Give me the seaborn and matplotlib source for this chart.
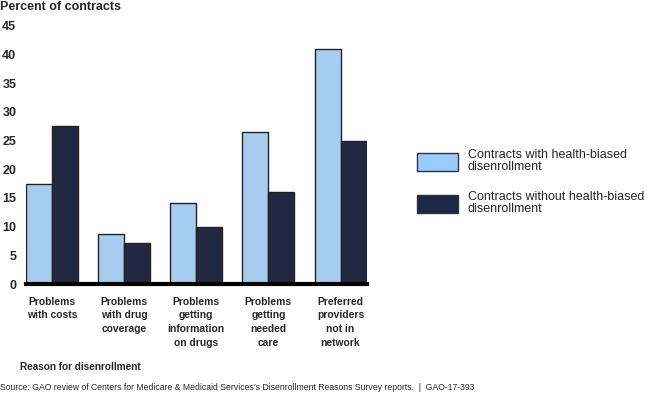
import pandas as pd
import numpy as np
import matplotlib
matplotlib.use("Agg")
import matplotlib.pyplot as plt
import seaborn as sns
from matplotlib.patches import Patch

# data
reasons = ["Problems\nwith costs", "Problems\nwith drug\ncoverage",
           "Problems\ngetting\ninformation\non drugs", "Problems\ngetting\nneeded\ncare",
           "Preferred\nproviders\nnot in\nnetwork"]
with_bias = [17.4, 8.8, 14.2, 26.5, 40.9]
without_bias = [27.5, 7.1, 10.0, 16.1, 25.0]
groups = ["Contracts with health-biased\ndisenrollment",
          "Contracts without health-biased\ndisenrollment"]
yticks = [0, 5, 10, 15, 20, 25, 30, 35, 40, 45]

LIGHT = "#99CCFF"
DARK = "#1A2747"

df = pd.DataFrame({
    "reason": reasons * 2,
    "pct": with_bias + without_bias,
    "group": [groups[0]] * 5 + [groups[1]] * 5,
})

sns.set_style("white")
plt.rcParams["font.family"] = ["Liberation Sans", "DejaVu Sans"]

fig = plt.figure(figsize=(6.5, 3.97), dpi=100)
ax = fig.add_axes([0.04, 0.2846, 0.525, 0.65])

sns.barplot(data=df, x="reason", y="pct", hue="group", palette=[LIGHT, DARK],
            width=0.72, gap=0, edgecolor="#222222", linewidth=1.0, ax=ax,
            legend=False)

ax.set_xlim(-0.36, 4.37)
ax.set_ylim(0, 45)
ax.set_yticks(yticks)
ax.set_yticklabels([str(t) for t in yticks], fontweight="bold", fontsize=9)
ax.tick_params(axis="y", length=0, pad=7)
ax.tick_params(axis="x", length=0, pad=9)
for lab in ax.get_xticklabels():
    lab.set_fontweight("bold")
    lab.set_fontsize(7.4)
    lab.set_linespacing(1.47)
    lab.set_ha("center")
ax.set_xlabel("")
ax.set_ylabel("")
for s in ["top", "right", "left"]:
    ax.spines[s].set_visible(False)
ax.spines["bottom"].set_linewidth(3)
ax.spines["bottom"].set_color("black")

handles = [Patch(facecolor=LIGHT, edgecolor="#333333", lw=1.0),
           Patch(facecolor=DARK, edgecolor="#333333", lw=1.0)]
leg = fig.legend(handles, groups, loc="upper left", bbox_to_anchor=(0.641, 0.624),
                 frameon=False, fontsize=9, handlelength=3.3, handleheight=1.9,
                 handletextpad=0.8, labelspacing=1.45, borderaxespad=0, borderpad=0)
for t in leg.get_texts():
    t.set_linespacing(1.0)

fig.text(0.0, 0.983, "Percent of contracts", fontweight="bold", fontsize=9,
         va="center", ha="left")
fig.text(0.031, 0.075, "Reason for disenrollment", fontweight="bold", fontsize=7.2,
         va="center", ha="left")
fig.text(0.0, 0.025, "Source: GAO review of Centers for Medicare & Medicaid Services\u2019s "
         "Disenrollment Reasons Survey reports.  |  GAO-17-393", fontsize=6.2,
         va="center", ha="left")

fig.savefig("out.png", dpi=100)
